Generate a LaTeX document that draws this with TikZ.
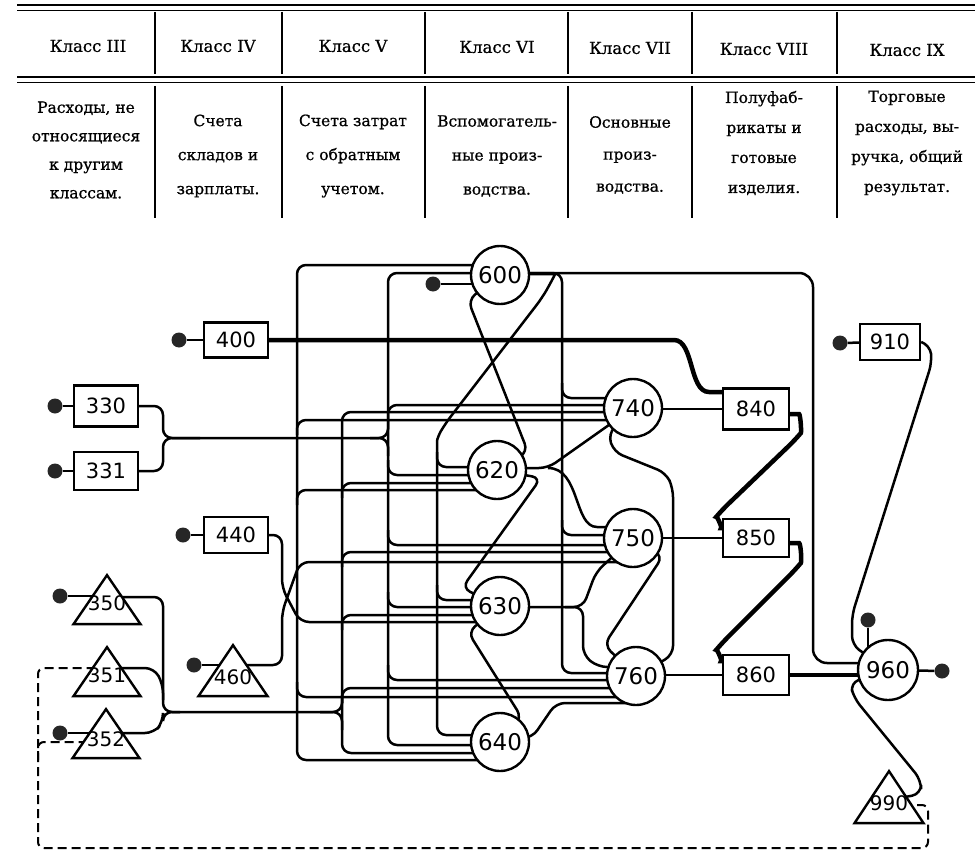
\documentclass[tikz,border=0pt]{standalone}
\usepackage{fontspec}
\setmainfont{DejaVu Serif}[FakeBold=0.8]
\newfontfamily\numfont{DejaVu Sans}
\usetikzlibrary{shapes.geometric,calc}
\pgfdeclarelayer{bg}
\pgfsetlayers{bg,main}

\begin{document}
\begin{tikzpicture}[
    x=1pt, y=-1pt,
    rule/.style={line width=1.3pt},
    hd/.style={font=\fontsize{16.5}{18}\selectfont},
    desc/.style={align=center, font=\fontsize{15.5}{34}\selectfont},
    num/.style={font=\numfont\fontsize{20}{20}\selectfont},
    acc/.style={circle, draw, line width=2.4pt, fill=white, minimum size=58pt, inner sep=0pt, font=\numfont\fontsize{23}{23}\selectfont},
    box/.style={rectangle, draw, line width=2.4pt, fill=white, minimum width=64pt, minimum height=38pt, inner sep=0pt, font=\numfont\fontsize{21}{21}\selectfont},
    tri/.style={isosceles triangle, isosceles triangle stretches, shape border rotate=90, draw, line width=2.4pt, fill=white, minimum width=67pt, minimum height=49pt, inner sep=0pt, anchor=apex},
    dot/.style={circle, fill=black!85, minimum size=15pt, inner sep=0pt},
    wire/.style={line width=2.5pt, rounded corners=9pt},
    heavy/.style={line width=4.5pt, rounded corners=9pt},
    back/.style={line width=2pt, dash pattern=on 9pt off 5pt, rounded corners=6pt}
]
\useasboundingbox (0,0) rectangle (979,853);

\draw[line width=2pt] (17,5) -- (975,5);
\draw[line width=0.9pt] (17,10) -- (975,10);
\draw[line width=2pt] (17,77) -- (975,77);
\draw[line width=0.9pt] (17,82) -- (975,82);
\draw[rule] (155,12) -- (155,74) (282,12) -- (282,74) (425,12) -- (425,74)
    (568,12) -- (568,74) (692,12) -- (692,74) (837,12) -- (837,74);
\draw[rule] (155,86) -- (155,218) (282,86) -- (282,218) (425,86) -- (425,218)
    (568,86) -- (568,218) (692,86) -- (692,218) (837,86) -- (837,218);

\node[hd] (cls3) at (88,46) {Класс III};
\node[hd] (cls4) at (218,46) {Класс IV};
\node[hd] (cls5) at (353,46) {Класс V};
\node[hd] (cls6) at (497,47) {Класс VI};
\node[hd] (cls7) at (630,48) {Класс VII};
\node[hd] (cls8) at (764,49) {Класс VIII};
\node[hd] (cls9) at (907,50) {Класс IX};

\node[desc, font=\fontsize{15.5}{28.5}\selectfont] (desc3) at (86,150) {Расходы, не\\относящиеся\\к другим\\классам.};
\node[desc] (desc4) at (218,156) {Счета\\складов и\\зарплаты.};
\node[desc] (desc5) at (353,156) {Счета затрат\\с обратным\\учетом.};
\node[desc] (desc6) at (497,156) {Вспомогатель-\\ные произ-\\водства.};
\node[desc, font=\fontsize{15.5}{32}\selectfont] (desc7) at (630,155) {Основные\\произ-\\водства.};
\node[desc, font=\fontsize{15.5}{30}\selectfont] (desc8) at (764,143) {Полуфаб-\\рикаты и\\готовые\\изделия.};
\node[desc, font=\fontsize{15.5}{30}\selectfont] (desc9) at (907,143) {Торговые\\расходы, вы-\\ручка, общий\\результат.};

\node[acc] (c600) at (500,275) {600};
\node[acc] (c620) at (497,470) {620};
\node[acc] (c630) at (500,606) {630};
\node[acc] (c640) at (500,742) {640};
\node[acc] (c740) at (633,408) {740};
\node[acc] (c750) at (633,538) {750};
\node[acc] (c760) at (636,676) {760};
\node[acc, minimum size=60pt] (c960) at (888,670) {960};

\node[box, minimum height=35pt] (b400) at (236,340) {400};
\node[box, minimum height=41pt] (b330) at (106,406) {330};
\node[box] (b331) at (106,471) {331};
\node[box, minimum height=36pt] (b440) at (236,535) {440};
\node[box, minimum width=66pt, minimum height=41pt] (b840) at (756,409) {840};
\node[box, minimum width=66pt, minimum height=38pt] (b850) at (756,538) {850};
\node[box, minimum width=66pt, minimum height=40pt] (b860) at (756,675) {860};
\node[box, minimum width=60pt, minimum height=36pt] (b910) at (890,342) {910};

\node[tri] (t350) at (107,572) {};
\node[tri] (t351) at (107,644) {};
\node[tri] (t352) at (106,706) {};
\node[tri, minimum width=69pt, minimum height=51pt] (t460) at (233,642) {};
\node[tri, minimum width=69pt, minimum height=52pt] (t990) at (889,768) {};
\node[num] (l350) at ($(t350.apex)+(0,31)$) {350};
\node[num] (l351) at ($(t351.apex)+(0,31)$) {351};
\node[num] (l352) at ($(t352.apex)+(0,33)$) {352};
\node[num] (l460) at ($(t460.apex)+(0,35)$) {460};
\node[num] (l990) at ($(t990.apex)+(0,35)$) {990};

\node[dot] (d400) at (179,340) {};
\node[dot] (d330) at (55,406) {};
\node[dot] (d331) at (55,471) {};
\node[dot] (d440) at (183,535) {};
\node[dot] (d350) at (60,596) {};
\node[dot] (d352) at (60,733) {};
\node[dot] (d460) at (194,665) {};
\node[dot] (d600) at (433,284) {};
\node[dot] (d910) at (840,343) {};
\node[dot] (d960t) at (868,620) {};
\node[dot] (d960r) at (942,671) {};

\begin{pgfonlayer}{bg}
\draw[wire] (d400) -- (b400);
\draw[wire] (d330) -- (b330);
\draw[wire] (d331) -- (b331);
\draw[wire] (d440) -- (b440);
\draw[wire] (d910) -- (b910);
\draw[wire] (d350) -- (d350 -| t350.apex);
\draw[wire] (d352) -- (d352 -| t352.apex);
\draw[wire] (d460) -- (d460 -| t460.apex);
\draw[wire] (d600) -- (d600 -| c600.center);
\draw[wire] (d960t) -- (d960t |- c960.center);
\draw[wire] (c960) -- (d960r);

\draw[wire] (c600.center |- 0,265) -- (297,265) -- (297,760) -- (c640.center |- 0,760);
\draw[wire] (297,435) -- (297,420) -- (c740.center |- 0,420);
\draw[wire] (297,505) -- (297,490) -- (c620.center |- 0,490);
\draw[wire] (297,682) -- (297,697) -- (c760.center |- 0,697);

\draw[wire] (c740.center |- 0,412) -- (342,412) -- (342,753) -- (c640.center |- 0,753);
\draw[wire] (342,498) -- (342,483) -- (c620.center |- 0,483);
\draw[wire] (342,567) -- (342,552) -- (c750.center |- 0,552);
\draw[wire] (342,630) -- (342,615) -- (c630.center |- 0,615);
\draw[wire] (342,703) -- (342,688) -- (c760.center |- 0,688);

\draw[wire] (c600.center |- 0,273) -- (388,273) -- (388,745) -- (c640.center |- 0,745);
\draw[wire] (388,420) -- (388,405) -- (c740.center |- 0,405);
\draw[wire] (388,460) -- (388,475) -- (c620.center |- 0,475);
\draw[wire] (388,530) -- (388,545) -- (c750.center |- 0,545);
\draw[wire] (388,592) -- (388,607) -- (c630.center |- 0,607);
\draw[wire] (388,665) -- (388,680) -- (c760.center |- 0,680);

\draw[wire] (c600.center |- 0,274) -- (546,274) to[out=0,in=60] (542,298) -- (445,424) to[out=240,in=90] (437,450) -- (437,735) -- (c640.center |- 0,735);
\draw[wire] (437,452) -- (437,467) -- (c620.center |- 0,467);
\draw[wire] (437,585) -- (437,600) -- (c630.center |- 0,600);

\draw[wire] (c600.center |- 0,273) -- (562,273) -- (562,673) -- (c760.center |- 0,673);
\draw[wire] (562,383) -- (562,398) -- (c740.center |- 0,398);
\draw[wire] (562,520) -- (562,535) -- (c750.center |- 0,535);
\draw[wire, rounded corners=14pt] (c600.center |- 0,273) -- (813,273) -- (813,663) -- (c960.center |- 0,663);

\draw[wire] (b330.east) -- (163,406) -- (163,438) -- (388,438) -- (388,420);
\draw[wire] (b331.east) -- (163,471) -- (163,438) -- (200,438);
\draw[wire] (370,438) -- (388,438) -- (388,456);

\draw[wire] (t350.apex |- 0,597) -- (163,597) -- (163,712) -- (342,712) -- (342,695);
\draw[wire] (t351.apex |- 0,668) -- (154,668) -- (163,684) -- (163,700);
\draw[wire] (t352.apex |- 0,733) -- (154,733) -- (163,722) -- (163,712) -- (180,712);
\draw[wire] (320,712) -- (342,712) -- (342,730);

\draw[wire] (b440.east) -- (282,535) -- (282,588) -- (300,622) -- (c630.center |- 0,622);
\draw[wire] (t460.apex |- 0,665) -- (282,665) -- (282,612) -- (300,562) -- (c750.center |- 0,562);

\draw[wire] (c600.center) -- (468,300) -- (528,452) -- (c620.center);
\draw[wire] (c620.center |- 0,468) -- (548,468) -- (c740.center);
\draw[wire] (548,468) to[out=0,in=180] (606,527) -- (c750.center |- 0,527);
\draw[wire] (c620.center) -- (541,478) -- (462,588) -- (c630.center);
\draw[wire] (c630.center) -- (468,632) -- (522,718) -- (c640.center);
\draw[wire] (c630.center |- 0,607) -- (583,607) -- (596,572) -- (c750.center);
\draw[wire] (565,607) -- (583,607) -- (583,655) -- (598,667) -- (c760.center |- 0,667);
\draw[wire] (c640.center |- 0,738) -- (532,738) -- (556,703) -- (c760.center |- 0,703);
\draw[wire] (c740.center) -- (608,434) -- (614,452) -- (666,473) -- (673,488) -- (673,655) -- (c760.center);
\draw[wire] (c750.center) -- (663,556) -- (604,645) -- (c760.center);

\draw[wire] (c740.center |- b840.center) -- (b840);
\draw[wire] (c750) -- (b850);
\draw[wire] (c760.center |- b860.center) -- (b860);
\draw[heavy] (b400) -- (665,340) to[out=0,in=180] (718,392) -- (b840.center |- 0,392);
\draw[heavy] (b840.center |- 0,414) -- (790,414) to[out=0,in=50] (795,440) -- (722,510) to[out=230,in=180] (730,528) -- (b850.center |- 0,528);
\draw[heavy] (b850.center |- 0,543) -- (790,543) to[out=0,in=50] (795,570) -- (722,643) to[out=230,in=180] (730,661) -- (b860.center |- 0,661);
\draw[heavy] (b860) -- (c960.center |- b860.center);

\draw[wire] (b910.east) -- (930,345) -- (932,362) -- (852,615) -- (852,645) -- (c960.center);
\draw[wire] (c960.center) -- (850,683) -- (854,698) -- (921,780) -- (921,794) -- (t990.apex |- 0,800);

\draw[back] (t990.apex |- 0,805) -- (928,805) -- (928,848) -- (38,848) -- (38,668) -- (t351.apex |- 0,668);
\draw[back] (38,760) -- (38,742) -- (t352.apex |- 0,742);
\end{pgfonlayer}
\end{tikzpicture}
\end{document}
